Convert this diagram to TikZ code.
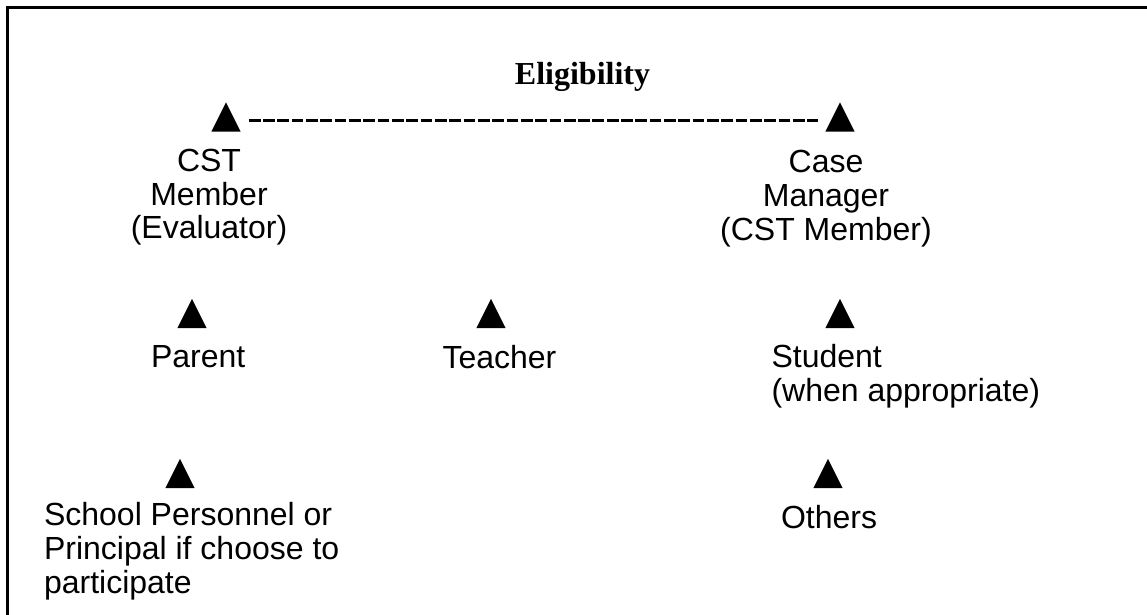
\documentclass[tikz,border=0pt]{standalone}
\usepackage{fontspec}
\setmainfont{Liberation Sans}
\newfontfamily\eligfont{Liberation Serif}

\begin{document}
\begin{tikzpicture}[x=0.375pt, y=-0.375pt,
    tri/.style={minimum width=10.9pt, minimum height=10.9pt, inner sep=0pt,
        path picture={\fill (path picture bounding box.south west) -- (path picture bounding box.south east) -- (path picture bounding box.north) -- cycle;}},
    role/.style={inner sep=0pt, font=\fontsize{12}{12.7}\selectfont},
    dashline/.style={line width=1.2pt, dash pattern=on 4.39pt off 0.98pt}]
    \useasboundingbox (0,0) rectangle (1147,615);
    \draw[line width=1.1pt] (7.3,615) -- (7.3,7.5) -- (1147,7.5);
    \node[inner sep=0pt, anchor=base, font=\eligfont\bfseries\fontsize{12}{14}\selectfont] (title) at (582.5,85) {Eligibility};
    \node[tri] (tcst) at (226,117) {};
    \node[tri] (tcase) at (840,117) {};
    \draw[dashline] ([xshift=2.9pt, yshift=-1.4pt]tcst.east) -- ([xshift=-2.75pt, yshift=-1.4pt]tcase.west);
    \node[role, anchor=north, align=center] (cst) at (209,148.3) {CST\\Member\\(Evaluator)};
    \node[role, anchor=north, align=center] (case) at (826,150) {Case\\Manager\\(CST Member)};
    \node[tri] (tparent) at (192,313.5) {};
    \node[tri] (tteacher) at (491,313.5) {};
    \node[tri] (tstudent) at (840,313.5) {};
    \node[role, anchor=north west] (parent) at (150.5,345) {Parent};
    \node[role, anchor=north west] (teacher) at (442,345) {Teacher};
    \node[role, anchor=north west, align=left] (student) at (771,343.5) {Student\\(when appropriate)};
    \node[tri] (tschool) at (180,473.5) {};
    \node[tri] (tothers) at (828,473.5) {};
    \node[role, anchor=north west, align=left] (school) at (43.5,501.7) {School Personnel or\\Principal if choose to\\participate};
    \node[role, anchor=north west] (others) at (780.5,505) {Others};
\end{tikzpicture}
\end{document}
